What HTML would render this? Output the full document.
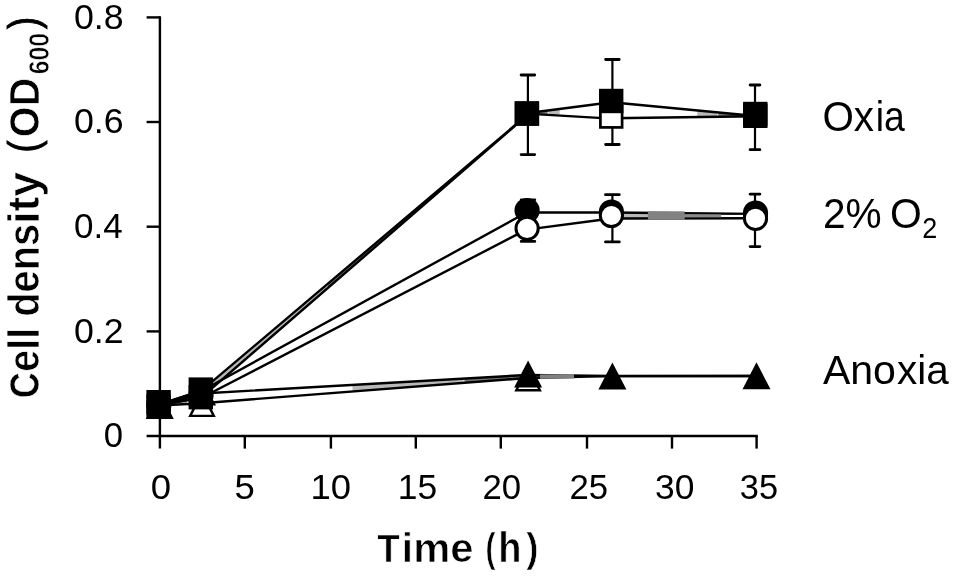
<!DOCTYPE html>
<html lang="en"><head><meta charset="utf-8"><title>Cell density vs time</title>
<style>
html,body{margin:0;padding:0;background:#fff;}
body{width:955px;height:576px;overflow:hidden;}
svg{display:block;}
text{font-family:"Liberation Sans",sans-serif;fill:#000;}
.b{font-weight:bold;}
</style></head><body>
<svg width="955" height="576" viewBox="0 0 955 576" role="img" aria-label="Cell density (OD600) versus time (h) for Oxia, 2% O2 and Anoxia">
<rect width="955" height="576" fill="#fff"/>
<path d="M159.9 16.2V448.6" stroke="#000" stroke-width="2.4" fill="none"/>
<path d="M146.6 436.0H757.8" stroke="#000" stroke-width="2.4" fill="none"/>
<path d="M146.6 331.4H160.0" stroke="#000" stroke-width="2.4" fill="none"/>
<path d="M146.6 226.7H160.0" stroke="#000" stroke-width="2.4" fill="none"/>
<path d="M146.6 122.0H160.0" stroke="#000" stroke-width="2.4" fill="none"/>
<path d="M146.6 17.4H160.0" stroke="#000" stroke-width="2.4" fill="none"/>
<path d="M244.8 436.0V448.6" stroke="#000" stroke-width="2.4" fill="none"/>
<path d="M330.9 436.0V448.6" stroke="#000" stroke-width="2.4" fill="none"/>
<path d="M415.8 436.0V448.6" stroke="#000" stroke-width="2.4" fill="none"/>
<path d="M500.8 436.0V448.6" stroke="#000" stroke-width="2.4" fill="none"/>
<path d="M587.0 436.0V448.6" stroke="#000" stroke-width="2.4" fill="none"/>
<path d="M672.0 436.0V448.6" stroke="#000" stroke-width="2.4" fill="none"/>
<path d="M756.6 436.0V448.6" stroke="#000" stroke-width="2.4" fill="none"/>
<text x="103.82" y="447.3" font-size="35.5" textLength="19.31" lengthAdjust="spacingAndGlyphs">0</text>
<text x="73.99" y="342.7" font-size="35.5" textLength="49.67" lengthAdjust="spacingAndGlyphs">0.2</text>
<text x="74.01" y="238.0" font-size="35.5" textLength="48.64" lengthAdjust="spacingAndGlyphs">0.4</text>
<text x="73.99" y="133.3" font-size="35.5" textLength="49.67" lengthAdjust="spacingAndGlyphs">0.6</text>
<text x="73.99" y="28.7" font-size="35.5" textLength="49.67" lengthAdjust="spacingAndGlyphs">0.8</text>
<text x="150.67" y="499.3" font-size="35.5" textLength="20.3" lengthAdjust="spacingAndGlyphs">0</text>
<text x="234.47" y="499.3" font-size="35.5" textLength="20.3" lengthAdjust="spacingAndGlyphs">5</text>
<text x="310.55" y="499.3" font-size="35.5" textLength="40.49" lengthAdjust="spacingAndGlyphs">10</text>
<text x="397.71" y="499.3" font-size="35.5" textLength="39.39" lengthAdjust="spacingAndGlyphs">15</text>
<text x="482.42" y="499.3" font-size="35.5" textLength="38.65" lengthAdjust="spacingAndGlyphs">20</text>
<text x="569.52" y="499.3" font-size="35.5" textLength="38.65" lengthAdjust="spacingAndGlyphs">25</text>
<text x="655.0" y="499.3" font-size="35.5" textLength="39.39" lengthAdjust="spacingAndGlyphs">30</text>
<text x="739.83" y="499.3" font-size="35.5" textLength="38.22" lengthAdjust="spacingAndGlyphs">35</text>
<text class="b" transform="translate(39.2 400.0) rotate(-90)"><tspan font-size="42" stroke="#fff" stroke-width="0.7" x="1.74" y="0" textLength="26.01" lengthAdjust="spacingAndGlyphs">C</tspan><tspan font-size="44.5" stroke="#fff" stroke-width="0.7" x="28.31" y="0" textLength="43.89" lengthAdjust="spacingAndGlyphs">ell</tspan> <tspan font-size="44.5" stroke="#fff" stroke-width="0.7" x="83.21" y="0" textLength="92.86" lengthAdjust="spacingAndGlyphs">dens</tspan><tspan font-size="44.5" stroke="#fff" stroke-width="0.7" x="175.98" y="0" textLength="52.26" lengthAdjust="spacingAndGlyphs">ity</tspan> <tspan font-size="43" font-weight="normal" stroke="#000" stroke-width="0.9" x="247.53" y="-1.6" textLength="11.94" lengthAdjust="spacingAndGlyphs">(</tspan><tspan font-size="42" stroke="#fff" stroke-width="0.7" x="262.86" y="0" textLength="59.33" lengthAdjust="spacingAndGlyphs">OD</tspan><tspan font-size="29.5" stroke="#fff" stroke-width="0.7" x="325.66" y="9.9" textLength="41.38" lengthAdjust="spacingAndGlyphs">600</tspan><tspan font-size="43" font-weight="normal" stroke="#000" stroke-width="0.9" x="370.9" y="-1.6" textLength="12.18" lengthAdjust="spacingAndGlyphs">)</tspan></text>
<text class="b" transform="translate(0 561.8)"><tspan font-size="38.5" stroke="#fff" stroke-width="0.7" x="377.2" y="0" textLength="22.55" lengthAdjust="spacingAndGlyphs">T</tspan><tspan font-size="41" stroke="#fff" stroke-width="0.7" x="401.56" y="0" textLength="71.92" lengthAdjust="spacingAndGlyphs">ime</tspan> <tspan font-size="41.5" stroke="#fff" stroke-width="0.7" x="485.45" y="0" textLength="10.03" lengthAdjust="spacingAndGlyphs">(</tspan><tspan font-size="42" stroke="#fff" stroke-width="0.7" x="498.19" y="0" textLength="23.21" lengthAdjust="spacingAndGlyphs">h</tspan><tspan font-size="41.5" stroke="#fff" stroke-width="0.7" x="526.2" y="0" textLength="12.21" lengthAdjust="spacingAndGlyphs">)</tspan></text>
<text transform="translate(0 130.9)"><tspan font-size="41.7" x="822.46" y="0" textLength="51.61" lengthAdjust="spacingAndGlyphs">Ox</tspan><tspan font-size="41.7" x="875.81" y="0" textLength="29.1" lengthAdjust="spacingAndGlyphs">ia</tspan></text>
<text transform="translate(0 227.8)"><tspan font-size="43" x="823.01" y="0" textLength="58.68" lengthAdjust="spacingAndGlyphs">2%</tspan> <tspan font-size="43" x="890.1" y="0.2" textLength="31.78" lengthAdjust="spacingAndGlyphs">O</tspan><tspan font-size="29.3" x="922.18" y="10.6" textLength="15.02" lengthAdjust="spacingAndGlyphs">2</tspan></text>
<text transform="translate(0 384.0)"><tspan font-size="41" x="822.9" y="0" textLength="73.05" lengthAdjust="spacingAndGlyphs">Ano</tspan><tspan font-size="41" x="897.11" y="0" textLength="51.72" lengthAdjust="spacingAndGlyphs">xia</tspan></text>
<path d="M527.9 75.0V154.6" stroke="#000" stroke-width="2.2" fill="none"/><path d="M521.1 75.0H534.7M521.1 154.6H534.7" stroke="#000" stroke-width="2.8" stroke-linecap="round" fill="none"/>
<path d="M612.4 59.5V144.5" stroke="#000" stroke-width="2.2" fill="none"/><path d="M605.6 59.5H619.2M605.6 144.5H619.2" stroke="#000" stroke-width="2.8" stroke-linecap="round" fill="none"/>
<path d="M755.0 85.0V149.7" stroke="#000" stroke-width="2.2" fill="none"/><path d="M750.1 85.0H759.9M750.1 149.7H759.9" stroke="#000" stroke-width="2.8" stroke-linecap="round" fill="none"/>
<path d="M528.0 199.8V241.4" stroke="#000" stroke-width="2.2" fill="none"/><path d="M521.2 199.8H534.8M521.2 241.4H534.8" stroke="#000" stroke-width="2.8" stroke-linecap="round" fill="none"/>
<path d="M612.4 194.7V241.9" stroke="#000" stroke-width="2.2" fill="none"/><path d="M605.5 194.7H619.3M605.5 241.9H619.3" stroke="#000" stroke-width="2.8" stroke-linecap="round" fill="none"/>
<path d="M755.0 194.2V246.6" stroke="#000" stroke-width="2.2" fill="none"/><path d="M750.1 194.2H759.9M750.1 246.6H759.9" stroke="#000" stroke-width="2.8" stroke-linecap="round" fill="none"/>
<polygon points="186.0,395.7 200.0,391.2 200.0,397.7 186.0,400.2" fill="#b8b8b8"/>
<polygon points="207.5,385.6 326.5,284.8 326.5,289.2 207.5,392.2" fill="#b8b8b8"/>
<polygon points="548.6,110.4 559.6,109.0 559.6,115.5 548.6,114.9" fill="#b8b8b8"/>
<polygon points="697.3,110.5 717.3,112.4 717.3,116.7 697.3,117.0" fill="#b8b8b8"/>
<polygon points="163.0,403.2 185.0,396.1 185.0,400.4 163.0,404.3" fill="#777"/>
<polygon points="327.5,284.0 499.5,138.3 499.5,139.4 327.5,288.3" fill="#777"/>
<polygon points="530.6,112.8 547.6,110.6 547.6,114.8 530.6,113.8" fill="#777"/>
<polygon points="718.3,112.5 747.3,115.2 747.3,116.3 718.3,116.7" fill="#777"/>
<polygon points="186.0,396.1 200.0,391.5 200.0,398.1 186.0,400.4" fill="#b8b8b8"/>
<polygon points="611.3,212.5 755.3,214.0 755.3,218.3 611.3,218.5" fill="#b8b8b8"/>
<polygon points="166.0,402.7 185.0,396.4 185.0,400.6 166.0,403.8" fill="#777"/>
<polygon points="178.0,400.1 187.0,397.6 187.0,404.0 178.0,404.5" fill="#b8b8b8"/>
<polygon points="352.5,384.9 463.5,378.6 463.5,382.9 352.5,391.5" fill="#b8b8b8"/>
<polygon points="164.0,404.1 177.0,400.4 177.0,404.5 164.0,405.2" fill="#777"/>
<polygon points="464.5,378.5 526.5,375.0 526.5,378.0 464.5,382.8" fill="#777"/>
<polygon points="526.6,375.0 584.6,375.7 584.6,376.7 526.6,378.0" fill="#777"/>
<path d="M159.0 405.5L201.5 403.2M201.5 403.2L526.6 378.0M526.6 378.0L611.3 376.1M611.3 376.1L755.5 376.0" fill="none" stroke="#000" stroke-width="2.4"/>
<path d="M159.0 405.5L201.5 393.5M201.5 393.5L526.6 375.0M526.6 375.0L611.3 376.0M611.3 376.0L755.5 376.0" fill="none" stroke="#000" stroke-width="2.4"/>
<path d="M159.0 405.0L201.5 391.0M201.5 391.0L526.6 212.5M526.6 212.5L611.3 212.5M611.3 212.5L755.5 214.0" fill="none" stroke="#000" stroke-width="2.4"/>
<path d="M159.0 405.0L201.5 397.8M201.5 397.8L526.6 229.6M526.6 229.6L611.3 218.5M611.3 218.5L755.5 218.3" fill="none" stroke="#000" stroke-width="2.4"/>
<path d="M159.0 405.0L201.5 397.4M201.5 397.4L526.6 115.9M526.6 113.6L611.3 118.6M611.3 118.2L755.5 116.2" fill="none" stroke="#000" stroke-width="2.4"/>
<path d="M159.0 404.5L201.5 390.7M201.5 390.7L526.6 115.4M526.6 113.3L611.3 102.3M611.3 102.3L755.5 116.0" fill="none" stroke="#000" stroke-width="2.4"/>
<rect x="684.6" y="214.3" width="36.6" height="3.0" fill="#8a8a8a"/>
<rect x="721.2" y="214.9" width="23" height="2.1" fill="#fff"/>
<rect x="647.9" y="211.3" width="36.8" height="8.5" fill="#828282"/>
<path d="M540 376.6L574 376.3" stroke="#808080" stroke-width="4.4" fill="none"/>
<path d="M202.0 392.6L213.8 415.9H190.2Z" fill="#fff" stroke="#000" stroke-width="2.4" stroke-linejoin="miter"/>
<path d="M528.1 367.0L539.9 390.3H516.3Z" fill="#fff" stroke="#000" stroke-width="2.4" stroke-linejoin="miter"/>
<path d="M159.8 392.0L173.8 419.0H145.8Z" fill="#000"/>
<path d="M202.0 378.5L216.0 405.5H188.0Z" fill="#000"/>
<path d="M528.1 360.5L542.1 387.5H514.1Z" fill="#000"/>
<path d="M612.4 362.4L626.4 389.4H598.4Z" fill="#000"/>
<path d="M756.5 362.3L770.5 389.3H742.5Z" fill="#000"/>
<circle cx="158.8" cy="405.0" r="12.6" fill="#000"/>
<circle cx="201.0" cy="395.5" r="12.6" fill="#000"/>
<circle cx="527.1" cy="210.5" r="12.6" fill="#000"/>
<circle cx="611.4" cy="212.0" r="12.6" fill="#000"/>
<circle cx="755.5" cy="213.0" r="12.6" fill="#000"/>
<circle cx="527.1" cy="228.4" r="11.1" fill="#fff" stroke="#000" stroke-width="3.0"/>
<circle cx="611.4" cy="215.5" r="11.1" fill="#fff" stroke="#000" stroke-width="3.0"/>
<circle cx="755.5" cy="218.4" r="11.1" fill="#fff" stroke="#000" stroke-width="3.0"/>
<rect x="146.4" y="394.4" width="24.4" height="24.4" fill="#000"/>
<rect x="188.6" y="385.0" width="24.4" height="24.4" fill="#000"/>
<rect x="514.7" y="101.4" width="24.4" height="24.4" fill="#000"/>
<rect x="600.4" y="105.7" width="21.7" height="21.7" fill="#fff" stroke="#000" stroke-width="2.7"/>
<rect x="743.1" y="103.6" width="24.4" height="24.4" fill="#000"/>
<rect x="146.4" y="390.0" width="24.4" height="24.4" fill="#000"/>
<rect x="188.6" y="377.4" width="24.4" height="24.4" fill="#000"/>
<rect x="514.7" y="101.3" width="24.4" height="24.4" fill="#000"/>
<rect x="599.0" y="88.8" width="24.4" height="24.4" fill="#000"/>
<rect x="743.1" y="101.8" width="24.4" height="24.4" fill="#000"/>
</svg></body></html>
